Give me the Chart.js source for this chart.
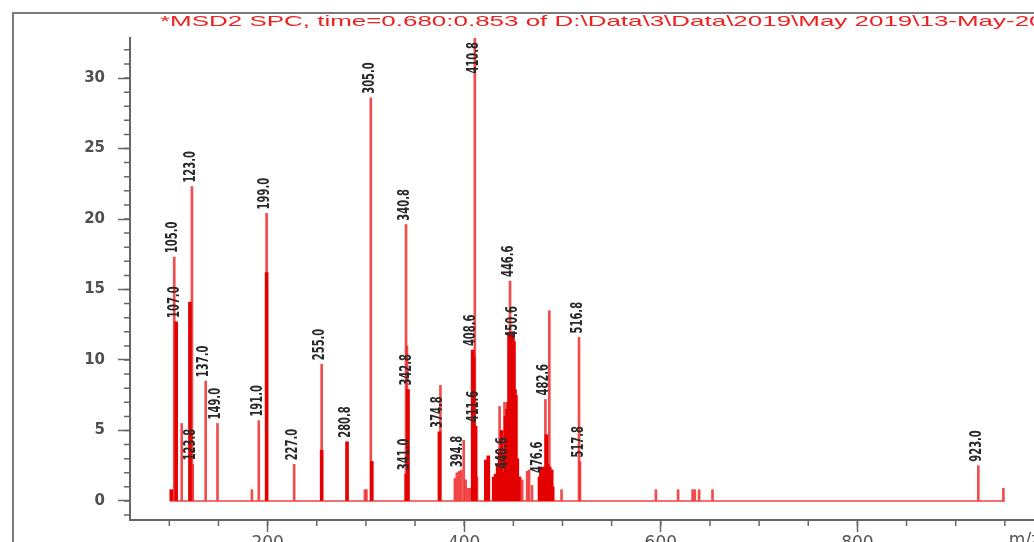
<!DOCTYPE html>
<html><head><meta charset="utf-8">
<script src="https://cdn.jsdelivr.net/npm/chart.js@4.4.1/dist/chart.umd.min.js"></script>
<style>
html,body{margin:0;padding:0;background:#fff;overflow:hidden;width:1034px;height:542px;position:relative;}
#frame{position:absolute;left:12px;top:12px;width:1100px;height:600px;border-left:2px solid #7a7a7a;border-top:2px solid #7a7a7a;}
#title{position:absolute;left:160px;top:12px;font:15px "Liberation Sans",Arial,sans-serif;color:#ee2020;white-space:nowrap;transform-origin:0 0;transform:scaleX(1.73);}
canvas{position:absolute;left:0;top:0;}
</style></head><body>
<div id="frame"></div>
<canvas id="c" width="1054" height="560"></canvas>
<div id="title">*MSD2 SPC, time=0.680:0.853 of D:\Data\3\Data\2019\May 2019\13-May-2019</div>
<script>
// ---- data ----
const thinMz  = [105.0,112.6,123.0,123.8,137.0,149.0,184.0,191.0,199.0,227.0,255.0,299.0,300.5,305.0,340.8,341.8,375.8,390.5,392.5,394.8,397.0,399.5,401.5,404.0,406.0,410.8,413.0,436.0,441.0,446.6,457.0,459.0,464.0,466.0,469.0,482.6,486.6,499.0,516.8,517.8,595.0,617.6,632.3,634.6,639.0,652.6,923.0,948.5];
const thinInt = [17.3,5.5,22.3,2.6,8.5,5.5,0.8,5.7,20.4,2.6,9.7,0.8,0.8,28.6,19.6,11.0,8.2,1.6,2.0,2.1,2.2,4.3,1.5,0.9,0.9,33.5,1.7,6.7,7.0,15.6,1.7,1.5,2.1,2.2,1.1,7.2,13.5,0.8,11.6,2.8,0.8,0.8,0.8,0.8,0.8,0.8,2.5,0.9];
const denseMz  = [102.0,107.0,121.0,199.0,255.0,280.8,306.0,341.0,342.8,374.8,408.6,409.6,411.6,422.0,424.5,430.0,432.0,434.0,436.0,438.0,440.6,442.0,443.6,444.6,445.6,447.6,448.6,449.6,450.6,451.6,452.6,454.0,455.5,476.6,478.0,480.0,481.5,483.6,485.0,487.0,489.0,490.0];
const denseInt = [0.8,12.7,14.1,16.2,3.6,4.2,2.8,1.9,7.9,4.9,10.7,10.2,5.3,2.9,3.2,1.7,1.9,2.5,3.5,5.0,2.0,6.0,6.5,7.0,11.9,12.0,11.8,11.9,11.3,7.9,7.5,3.0,1.7,1.7,2.4,2.4,2.4,4.7,2.6,2.4,2.2,1.0];
const labeledPeaks = [105.0,107.0,123.0,123.8,137.0,149.0,191.0,199.0,227.0,255.0,280.8,305.0,340.8,341.0,342.8,374.8,394.8,408.6,410.8,411.6,440.6,446.6,450.6,476.6,482.6,516.8,517.8,923.0];
const baselineRange = [100.5, 950.0];
const yMajorTicks = [0,5,10,15,20,25,30];
const xMajorTicks = [200,400,600,800];
const xUnitLabel = 'm/z', xUnitAt = 950;
const yMinorStep = 1, xMinorStart = 100, xMinorStep = 50;

function intensityAt(m){
  let h = 0;
  thinMz.forEach((v,i)=>{ if (Math.abs(v-m)<1e-6) h = Math.max(h, thinInt[i]); });
  denseMz.forEach((v,i)=>{ if (Math.abs(v-m)<1e-6) h = Math.max(h, denseInt[i]); });
  return h;
}

const minorTicks = {
  id:'minorTicks',
  afterDraw(chart){
    const {ctx, chartArea:a, scales:{x,y}} = chart;
    ctx.save(); ctx.strokeStyle='#666'; ctx.lineWidth=1.5; ctx.beginPath();
    for (let v=Math.ceil(y.min); v<=y.max; v+=yMinorStep){ const p=y.getPixelForValue(v); ctx.moveTo(a.left-6,p); ctx.lineTo(a.left,p); }
    for (let v=xMinorStart; v<=x.max; v+=xMinorStep){ const p=x.getPixelForValue(v); ctx.moveTo(p,a.bottom); ctx.lineTo(p,a.bottom+6); }
    ctx.stroke();
    ctx.fillStyle='#555'; ctx.font='17px "DejaVu Sans"'; ctx.textAlign='left'; ctx.textBaseline='top';
    ctx.fillText(xUnitLabel, x.getPixelForValue(xUnitAt)+4, a.bottom+12);
    ctx.restore();
  }
};

const peakLabels = {
  id:'peakLabels',
  afterDatasetsDraw(chart){
    const {ctx, chartArea:a, scales:{x,y}} = chart;
    ctx.save();
    ctx.fillStyle='#2a2a2a';
    ctx.font='bold 15px "Liberation Sans Narrow","Arial Narrow","DejaVu Sans Condensed",sans-serif';
    ctx.textBaseline='middle'; ctx.textAlign='left';
    labeledPeaks.forEach(m=>{
      const t = m.toFixed(1);
      const w = ctx.measureText(t).width;
      const L = 6.3*t.length;
      const px = x.getPixelForValue(m) - 1.5;
      let py = y.getPixelForValue(intensityAt(m)) - 4;
      if (py - L < a.top + 4) py = a.top + 4 + L;
      ctx.save(); ctx.translate(px,py); ctx.rotate(-Math.PI/2); ctx.scale(L/w,1.1); ctx.fillText(t,0,0); ctx.restore();
    });
    ctx.restore();
  }
};

new Chart(document.getElementById('c'), {
  type:'bar',
  data:{datasets:[
    {type:'line', data:[{x:baselineRange[0],y:0},{x:baselineRange[1],y:0}], borderColor:'#f04040', borderWidth:1.5, pointRadius:0, order:3},
    {data:thinMz.map((m,i)=>({x:m,y:thinInt[i]})), backgroundColor:'rgba(240,45,45,0.85)', barThickness:2, grouped:false, order:2},
    {data:denseMz.map((m,i)=>({x:m,y:denseInt[i]})), backgroundColor:'#e40000', barThickness:3, grouped:false, order:1}
  ]},
  options:{
    responsive:false, animation:false, devicePixelRatio:1,
    layout:{padding:{top:38,left:0,right:0,bottom:0}},
    plugins:{legend:{display:false}, tooltip:{enabled:false}},
    scales:{
      x:{type:'linear', min:60, max:1000, position:'bottom', offset:false,
        afterFit(s){ s.height=40; },
        afterBuildTicks(s){ s.ticks = xMajorTicks.map(v=>({value:v})); },
        grid:{drawOnChartArea:false, offset:false, tickLength:12, tickColor:'#666', tickWidth:1.5},
        border:{color:'#666', width:2},
        ticks:{padding:1, color:'#555', font:{family:'DejaVu Sans', size:17}, maxRotation:0, autoSkip:false}},
      y:{type:'linear', min:-1.35, max:32.84, position:'left',
        afterFit(s){ s.width=130; },
        afterBuildTicks(s){ s.ticks = yMajorTicks.map(v=>({value:v})); },
        grid:{drawOnChartArea:false, tickLength:12, tickColor:'#666', tickWidth:1.5},
        border:{color:'#666', width:2},
        ticks:{padding:13, color:'#505050', font:{family:'DejaVu Sans', size:15, weight:'bold'}}}
    }
  },
  plugins:[minorTicks, peakLabels]
});
</script>
</body></html>
